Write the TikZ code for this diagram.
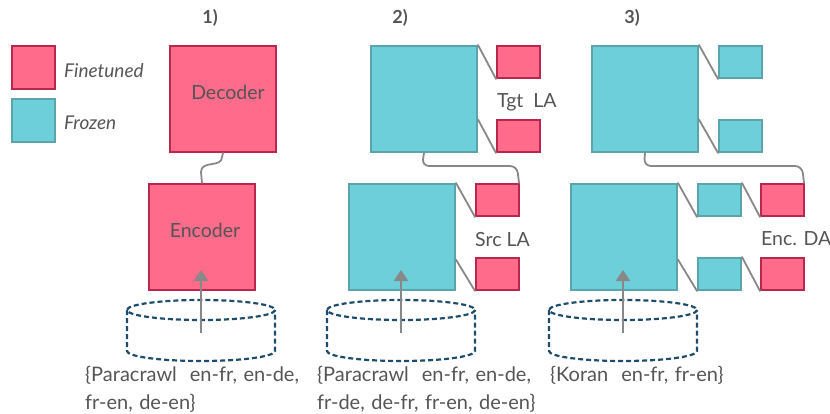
\documentclass[tikz,border=0pt]{standalone}
\usepackage{fontspec}
\setmainfont{Lato}
\usetikzlibrary{arrows.meta,calc}
\definecolor{pinkfill}{HTML}{FF6B8B}
\definecolor{pinkline}{HTML}{B8284C}
\definecolor{cyanfill}{HTML}{6CCFDA}
\definecolor{cyanline}{HTML}{5BA4AC}
\definecolor{conngray}{HTML}{888888}
\definecolor{cylblue}{HTML}{1E4D6B}
\definecolor{txtgray}{HTML}{555555}
\newcommand\dsetfont{\fontsize{20}{23}\selectfont\spaceskip=6.5pt plus 1pt minus 1pt\relax}
\tikzset{
  fine/.style={draw=pinkline, fill=pinkfill, line width=2pt, inner sep=0pt, anchor=north west},
  froz/.style={draw=cyanline, fill=cyanfill, line width=2pt, inner sep=0pt, anchor=north west},
  big/.style={minimum width=106pt, minimum height=106pt},
  small/.style={minimum width=43pt, minimum height=32pt},
  leg/.style={minimum width=43pt, minimum height=43pt},
  conn/.style={draw=conngray, line width=1.8pt, line cap=round},
  cyl/.style={draw=cylblue, line width=2.2pt, dash pattern=on 5pt off 3pt},
  uparrow/.style={draw=conngray, line width=2pt, -{Triangle[width=14pt,length=11pt]}},
  lbl/.style={text=txtgray, font=\fontsize{19.5}{23}\selectfont, inner sep=0pt},
  dset/.style={text=txtgray, font=\dsetfont, inner sep=0pt, anchor=base west},
  hdr/.style={text=txtgray, font=\fontsize{18}{21}\selectfont\bfseries, inner sep=0pt},
}
\begin{document}
\begin{tikzpicture}[x=1pt,y=-1pt]
\useasboundingbox (0,0) rectangle (830,414);
% legend
\node[fine,leg] (legf) at (11,45) {};
\node[froz,leg] (legz) at (11,98) {};
\node[lbl,anchor=west,font=\fontsize{19}{22}\selectfont\itshape] (legft) at (64,71) {Finetuned};
\node[lbl,anchor=west,font=\fontsize{19}{22}\selectfont\itshape] (legzt) at (64,123) {Frozen};
% headers
\node[hdr] (h1) at (210,18) {1)};
\node[hdr] (h2) at (400,18) {2)};
\node[hdr] (h3) at (632,18) {3)};

% ---------- panel 1
\node[fine,big] (dec1) at (169,45) {};
\node[fine,big] (enc1) at (148,183) {};
\node[lbl] (dec1t) at (228,92) {Decoder};
\node[lbl] (enc1t) at (205,230) {Encoder};
\draw[conn] (dec1.south) -- (222,157) .. controls (222,168) and (201,160) .. (201,172) -- (enc1.north);

% ---------- panel 2
\node[froz,big] (dec2) at (370,45) {};
\node[fine,small] (tgt1) at (496,45) {};
\node[fine,small] (tgt2) at (496,119) {};
\draw[conn] (dec2.north east) -- (tgt1.south west);
\draw[conn] ($(dec2.south east)!0.31!(dec2.north east)$) -- (tgt2.south west);
\node[lbl,anchor=west] (tgtt) at (497,102) {Tgt\ \ LA};
\node[froz,big] (enc2) at (348,183) {};
\node[fine,small] (src1) at (475,183) {};
\node[fine,small] (src2) at (475,257) {};
\draw[conn] (enc2.north east) -- (src1.south west);
\draw[conn] ($(enc2.south east)!0.29!(enc2.north east)$) -- (src2.south west);
\node[lbl,anchor=west] (srct) at (475,240) {Src LA};
\draw[conn, rounded corners=7pt] (dec2.south) -- (422,166) -- (517,166) -- ($(src1.north east)+(-1,0)$);

% ---------- panel 3
\node[froz,big] (dec3) at (591,45) {};
\node[froz,small] (fz1) at (718,45) {};
\node[froz,small] (fz2) at (718,119) {};
\draw[conn] (dec3.north east) -- (fz1.south west);
\draw[conn] ($(dec3.south east)!0.31!(dec3.north east)$) -- (fz2.south west);
\node[froz,big] (enc3) at (570,183) {};
\node[froz,small] (la1) at (697,183) {};
\node[froz,small] (la2) at (697,257) {};
\node[fine,small] (da1) at (760,183) {};
\node[fine,small] (da2) at (760,257) {};
\draw[conn] (enc3.north east) -- (la1.south west);
\draw[conn] ($(enc3.south east)!0.29!(enc3.north east)$) -- (la2.south west);
\draw[conn] (la1.north east) -- (da1.south west);
\draw[conn] (la2.north east) -- (da2.south west);
\node[lbl,anchor=west] (dat) at (761,239) {Enc. DA};
\draw[conn, rounded corners=7pt] (dec3.south) -- (644,166) -- (802,166) -- ($(da1.north east)+(-1,0)$);

% ---------- cylinders
\foreach \cx/\nm in {201/c1, 401/c2, 623/c3}{
  \draw[cyl] (\cx,310) ellipse [x radius=74, y radius=10];
  \draw[cyl] (\cx-74,310) -- (\cx-74,351) arc[start angle=180, end angle=0, x radius=74, y radius=10] -- (\cx+74,310);
  \coordinate (\nm) at (\cx,333);
  \coordinate (\nm t) at (\cx,270);
}
\draw[uparrow] (c1) -- (c1t);
\draw[uparrow] (c2) -- (c2t);
\draw[uparrow] (c3) -- (c3t);

% ---------- dataset texts
\node[dset] (d1a) at (85,381) {\{Paracrawl\ \ en-fr, en-de,};
\node[dset] (d1b) at (85,409) {fr-en, de-en\}};
\node[dset] (d2a) at (317,381) {\{Paracrawl\ \ en-fr, en-de,};
\node[dset] (d2b) at (317,409) {fr-de, de-fr, fr-en, de-en\}};
\node[dset] (d3a) at (550,381) {\{Koran\ \ en-fr, fr-en\}};
\end{tikzpicture}
\end{document}
